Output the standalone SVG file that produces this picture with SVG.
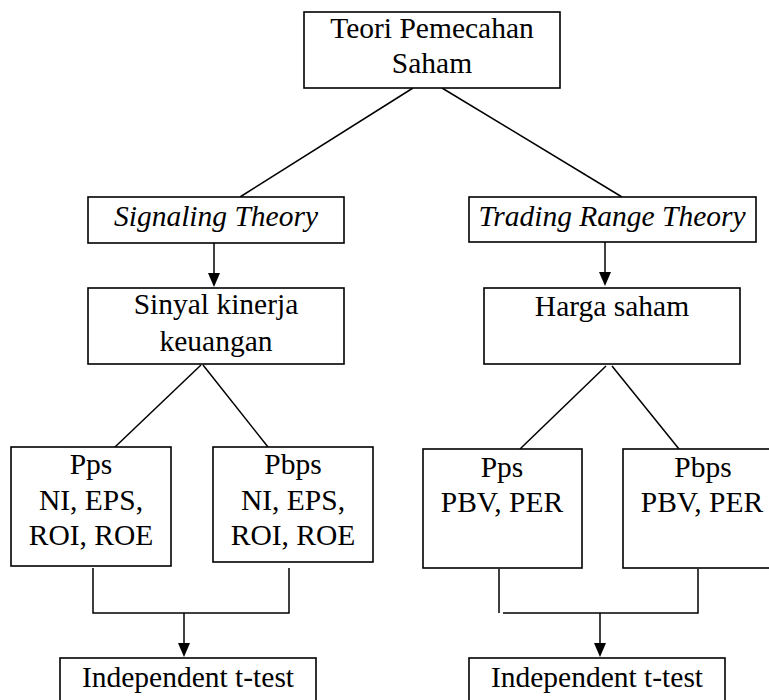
<svg xmlns="http://www.w3.org/2000/svg" width="769" height="700" viewBox="0 0 769 700">
<style>
.box{fill:#fff;stroke:#000;stroke-width:1.6}
.t{font-family:'Liberation Serif',Tinos,'Times New Roman','Nimbus Roman','Noto Serif','DejaVu Serif',serif;font-size:29.5px;fill:#000;text-anchor:middle}
.i{font-style:italic}
.ln{fill:none;stroke:#000;stroke-width:1.5}
</style>
<rect width="769" height="700" fill="#fff"/>
<g id="connectors">
<line class="ln" x1="413" y1="88" x2="240" y2="197"/>
<line class="ln" x1="442" y1="88" x2="622" y2="197"/>
<line class="ln" x1="214" y1="243" x2="214" y2="274"/>
<path d="M208,273 L220,273 L214,287 Z" fill="#000"/>
<line class="ln" x1="605" y1="242" x2="605" y2="273"/>
<path d="M599,272 L611,272 L605,286 Z" fill="#000"/>
<line class="ln" x1="201" y1="365" x2="115" y2="447"/>
<line class="ln" x1="203" y1="365" x2="268" y2="447"/>
<line class="ln" x1="606" y1="366" x2="520" y2="449"/>
<line class="ln" x1="612" y1="366" x2="679" y2="449"/>
<path class="ln" d="M93,568 L93,613 L289,613 L289,568"/>
<line class="ln" x1="184" y1="613" x2="184" y2="644"/>
<path d="M178,643 L190,643 L184,657 Z" fill="#000"/>
<path class="ln" d="M499,569 L499,613 M503,613 L698,613 L698,569"/>
<line class="ln" x1="600" y1="613" x2="600" y2="644"/>
<path d="M594,643 L606,643 L600,657 Z" fill="#000"/>
</g>
<g id="teori">
<rect class="box" x="304" y="12" width="256" height="76"/>
<text class="t" x="432" y="38">Teori Pemecahan</text>
<text class="t" x="432" y="73">Saham</text>
</g>
<g id="signaling">
<rect class="box" x="88" y="197" width="256" height="46"/>
<text class="t i" x="216" y="226">Signaling Theory</text>
</g>
<g id="trading">
<rect class="box" x="469" y="197" width="287" height="45"/>
<text class="t i" x="612" y="226">Trading Range Theory</text>
</g>
<g id="sinyal">
<rect class="box" x="88" y="288" width="256" height="76"/>
<text class="t" x="216" y="314">Sinyal kinerja</text>
<text class="t" x="216" y="351">keuangan</text>
</g>
<g id="harga">
<rect class="box" x="484" y="288" width="256" height="76"/>
<text class="t" x="612" y="316">Harga saham</text>
</g>
<g id="pps-left">
<rect class="box" x="11" y="447" width="160" height="119"/>
<text class="t" x="91" y="474">Pps</text>
<text class="t" x="91" y="510">NI, EPS,</text>
<text class="t" x="91" y="545">ROI, ROE</text>
</g>
<g id="pbps-left">
<rect class="box" x="213" y="447" width="160" height="115"/>
<text class="t" x="293" y="474">Pbps</text>
<text class="t" x="293" y="510">NI, EPS,</text>
<text class="t" x="293" y="545">ROI, ROE</text>
</g>
<g id="pps-right">
<rect class="box" x="423" y="449" width="159" height="119"/>
<text class="t" x="502" y="477">Pps</text>
<text class="t" x="502" y="512">PBV, PER</text>
</g>
<g id="pbps-right">
<rect class="box" x="623" y="449" width="160" height="119"/>
<text class="t" x="703" y="477">Pbps</text>
<text class="t" x="702" y="512">PBV, PER</text>
</g>
<g id="ttest-left">
<rect class="box" x="60" y="658" width="256" height="60"/>
<text class="t" x="188" y="687">Independent t-test</text>
</g>
<g id="ttest-right">
<rect class="box" x="469" y="658" width="256" height="60"/>
<text class="t" x="597" y="687">Independent t-test</text>
</g>
</svg>
